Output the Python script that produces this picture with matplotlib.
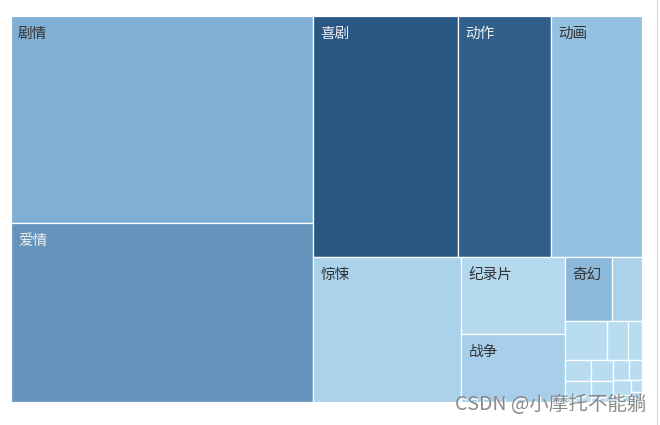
import matplotlib
matplotlib.use("Agg")
import matplotlib.pyplot as plt
from matplotlib.patches import Rectangle
import math

plt.rcParams['font.family'] = ['Noto Sans CJK SC', 'DejaVu Sans']

# genre counts
genres = ['剧情', '爱情', '喜剧', '动作', '动画', '惊悚', '纪录片', '战争', '奇幻',
          '悬疑', '科幻', '犯罪', '冒险', '家庭', '传记', '历史', '音乐', '歌舞',
          '武侠', '古装', '西部', '运动', '灾难']
counts = [6258, 5411, 3495, 2241, 2186, 2146, 801, 707, 301,
          192, 162, 80, 54, 54, 54, 46, 45, 33,
          27, 27, 13, 12, 11]

colors = ['#7fafd5', '#6494bc', '#2b5784', '#315f8b', '#93c1df', '#aad2eb', '#b4d9ee',
          '#a7cfe9', '#8cb8da', '#aad2ea', '#b8ddf0', '#b8ddf0', '#b8ddf0', '#b8ddf0',
          '#b8ddf0', '#b8ddf0', '#b8ddf0', '#b8ddf0', '#b8ddf0', '#b8ddf0', '#b8ddf0',
          '#b8ddf0', '#b8ddf0']
dark = {'爱情', '喜剧', '动作'}

W, H = 660, 425
X0, Y0, TW, TH = 11, 16, 631, 386
RATIO = 0.5 * (1 + math.sqrt(5))


def worst(areas, fixed):
    s = sum(areas)
    f = fixed * fixed * RATIO
    return max(f * max(areas) / (s * s), s * s / (f * min(areas)))


def position(row, areas, fixed, rect, out, flush):
    x, y, w, h = rect
    horiz = fixed == w
    other = sum(areas) / fixed
    lim = h if horiz else w
    if flush or other > lim:
        other = lim
    last = x if horiz else y
    end = (x + w) if horiz else (y + h)
    for k, (idx, a) in enumerate(zip(row, areas)):
        remain = end - last
        size = remain if (k == len(row) - 1 or remain < a / other) else a / other
        if horiz:
            out[idx] = (last, y, size, other)
        else:
            out[idx] = (x, last, other, size)
        last += size
    if horiz:
        return (x, y + other, w, h - other)
    return (x + other, y, w - other, h)


def squarify(values, rect):
    total = sum(values)
    x, y, w, h = rect
    areas = [v / total * w * h for v in values]
    order = sorted(range(len(values)), key=lambda i: -values[i])
    out = {}
    fixed = min(w, h)
    best = math.inf
    row = []
    i = 0
    while i < len(order):
        row.append(order[i])
        score = worst([areas[j] for j in row], fixed)
        if score <= best:
            best = score
            i += 1
        else:
            row.pop()
            rect = position(row, [areas[j] for j in row], fixed, rect, out, False)
            fixed = min(rect[2], rect[3])
            row = []
            best = math.inf
    if row:
        position(row, [areas[j] for j in row], fixed, rect, out, True)
    return out


fig = plt.figure(figsize=(W / 100, H / 100), dpi=100)
ax = fig.add_axes([0, 0, 1, 1])
ax.set_xlim(0, W)
ax.set_ylim(H, 0)
ax.axis('off')

rects = squarify(counts, (X0, Y0, TW, TH))
for i, name in enumerate(genres):
    rx, ry, rw, rh = rects[i]
    ax.add_patch(Rectangle((rx, ry), rw, rh, facecolor=colors[i],
                           edgecolor='white', linewidth=0.9))
    if rw >= 40 and rh >= 50:
        ax.text(rx + 7, ry + 18, name, fontsize=10.5, va='center', ha='left',
                color='#eeeeee' if name in dark else '#333333')

# page edge on the right
ax.plot([656.5, 656.5], [0, H], color='#dddddd', linewidth=1)

# watermark
for dx, dy, c in [(1, 1, 'white'), (0, 0, '#8a8a8a')]:
    ax.text(455 + dx, 405 + dy, 'CSDN @小摩托不能躺', fontsize=14, color=c,
            va='center', ha='left')

fig.savefig('out.png', dpi=100)
